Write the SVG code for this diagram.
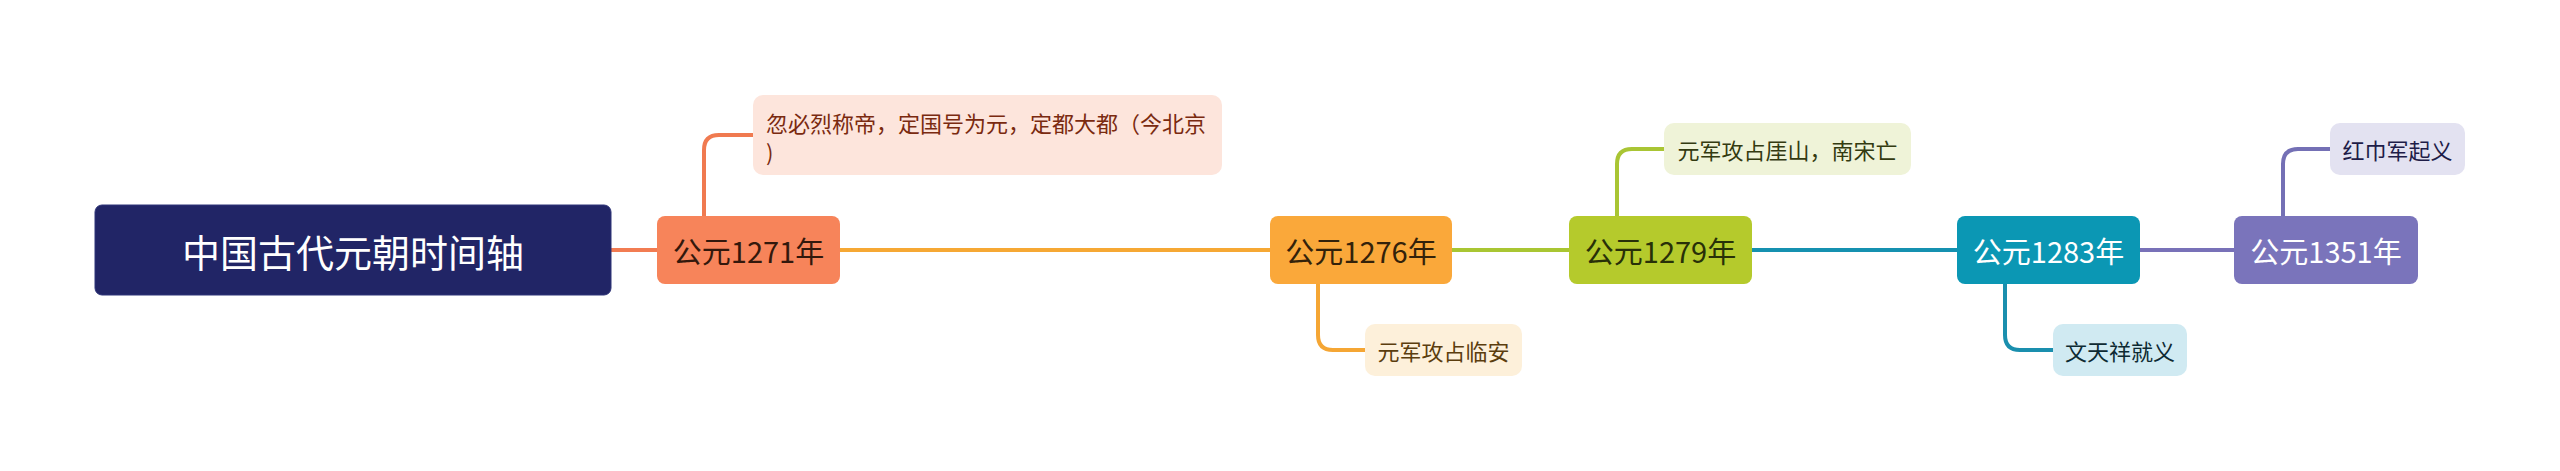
<svg xmlns="http://www.w3.org/2000/svg" width="2560" height="471" viewBox="0 0 2560 471">
<style>
text{font-family:"Noto Sans CJK SC","Noto Sans",sans-serif;dominant-baseline:central;}
.main{font-size:29px;text-anchor:middle;}
.sub{font-size:22px;}
.ln{fill:none;stroke-width:4;stroke-linecap:round;stroke-linejoin:round;}
</style>
<rect width="2560" height="471" fill="#ffffff"/>
<g id="connectors">
<path class="ln" d="M611 250 H657" stroke="#f27c52"/>
<path class="ln" d="M840 250 H1270" stroke="#f6a834"/>
<path class="ln" d="M1452 250 H1569" stroke="#a9c632"/>
<path class="ln" d="M1752 250 H1957" stroke="#1591b0"/>
<path class="ln" d="M2140 250 H2234" stroke="#7871b8"/>
<path class="ln" d="M704 216 V150 Q704 135 719 135 H753" stroke="#f07a50"/>
<path class="ln" d="M1318 284 V335 Q1318 350 1333 350 H1365" stroke="#f5a634"/>
<path class="ln" d="M1617 216 V164 Q1617 149 1632 149 H1664" stroke="#a9c534"/>
<path class="ln" d="M2005 284 V335 Q2005 350 2020 350 H2053" stroke="#1a8fae"/>
<path class="ln" d="M2283 216 V164 Q2283 149 2298 149 H2330" stroke="#7470b5"/>
</g>
<g id="root">
<rect x="95" y="205" width="516" height="90" rx="7" fill="#212566" stroke="#2e3478" stroke-width="1"/>
<text x="353" y="250" font-size="38" text-anchor="middle" fill="#ffffff">中国古代元朝时间轴</text>
</g>
<g id="n1271">
<rect x="657" y="216" width="183" height="68" rx="8" fill="#f7845a"/>
<text class="main" x="748.5" y="250" fill="#33180c">公元1271年</text>
</g>
<g id="c1271">
<rect x="753" y="95" width="469" height="80" rx="10" fill="#fde5dc"/>
<text class="sub" x="766" y="122" fill="#7a2a10">忽必烈称帝，定国号为元，定都大都（今北京</text>
<text class="sub" x="766" y="151" fill="#7a2a10">)</text>
</g>
<g id="n1276">
<rect x="1270" y="216" width="182" height="68" rx="8" fill="#faa83a"/>
<text class="main" x="1361" y="250" fill="#33220a">公元1276年</text>
</g>
<g id="c1276">
<rect x="1365" y="324" width="157" height="52" rx="10" fill="#fdf0da"/>
<text class="sub" x="1443.5" y="350" text-anchor="middle" fill="#5b3d0e">元军攻占临安</text>
</g>
<g id="n1279">
<rect x="1569" y="216" width="183" height="68" rx="8" fill="#b5ca2c"/>
<text class="main" x="1660.5" y="250" fill="#283008">公元1279年</text>
</g>
<g id="c1279">
<rect x="1664" y="123" width="247" height="52" rx="10" fill="#eff3d8"/>
<text class="sub" x="1787.5" y="149" text-anchor="middle" fill="#333a10">元军攻占厓山，南宋亡</text>
</g>
<g id="n1283">
<rect x="1957" y="216" width="183" height="68" rx="8" fill="#0b97b4"/>
<text class="main" x="2048.5" y="250" fill="#ffffff">公元1283年</text>
</g>
<g id="c1283">
<rect x="2053" y="324" width="134" height="52" rx="10" fill="#d0eaf2"/>
<text class="sub" x="2120" y="350" text-anchor="middle" fill="#0e2a33">文天祥就义</text>
</g>
<g id="n1351">
<rect x="2234" y="216" width="184" height="68" rx="8" fill="#7a74bb"/>
<text class="main" x="2326" y="250" fill="#ffffff">公元1351年</text>
</g>
<g id="c1351">
<rect x="2330" y="123" width="135" height="52" rx="10" fill="#e3e2f1"/>
<text class="sub" x="2397.5" y="149" text-anchor="middle" fill="#1e1c48">红巾军起义</text>
</g>
</svg>
